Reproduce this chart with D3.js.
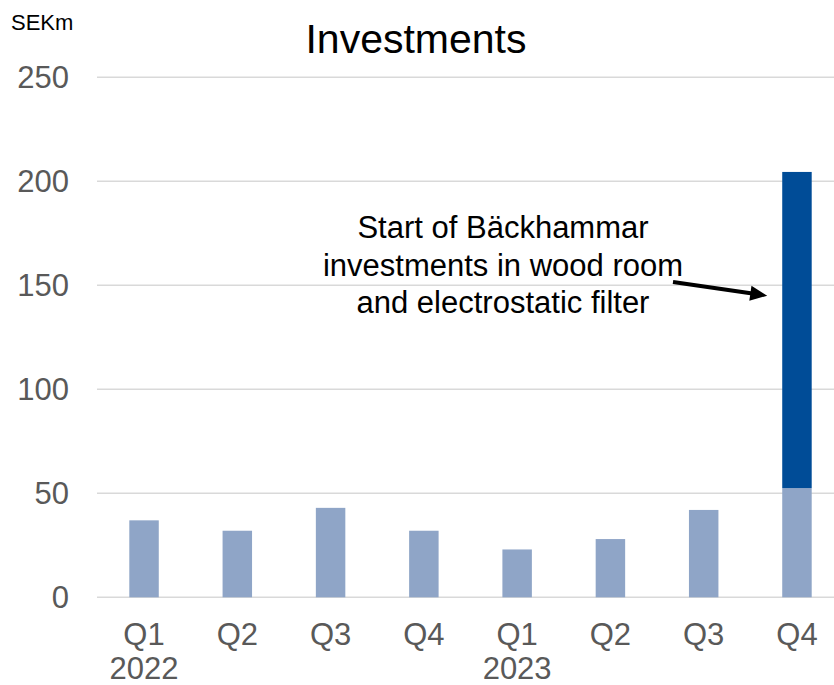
<!DOCTYPE html>
<html>
<head>
<meta charset="utf-8">
<script src="https://cdn.jsdelivr.net/npm/d3@7/dist/d3.min.js"></script>
<style>
  html, body { margin: 0; padding: 0; background: #fff; }
  svg { display: block; font-family: "Liberation Sans", Arial, sans-serif; }
</style>
</head>
<body>
<svg id="chart" width="834" height="685"></svg>
<script>
// ---- data ----
const quarters = ["Q1", "Q2", "Q3", "Q4", "Q1", "Q2", "Q3", "Q4"];
const years = ["2022", "", "", "", "2023", "", "", ""];
const ongoing = [37, 32, 43, 32, 23, 28, 42, 52.5];
const backhammar = [0, 0, 0, 0, 0, 0, 0, 152];
const yTicks = [0, 50, 100, 150, 200, 250];
const titleText = "Investments";
const unitText = "SEKm";
const noteLines = ["Start of Bäckhammar", "investments in wood room", "and electrostatic filter"];
const seriesKeys = ["ongoing", "backhammar"];
const seriesColors = ["#8FA5C7", "#004C97"];

// ---- build table ----
const table = quarters.map((q, i) => ({ idx: i, ongoing: ongoing[i], backhammar: backhammar[i] }));
const stacked = d3.stack().keys(seriesKeys)(table);

const svg = d3.select("#chart");
const W = 834;

const x = d3.scaleBand()
  .domain(d3.range(quarters.length))
  .range([97.4, 843.6])
  .paddingInner(0.684)
  .paddingOuter(0.342);

const y = d3.scaleLinear().domain([0, 250]).range([597.3, 77.3]);

// gridlines
svg.append("g").selectAll("line")
  .data(yTicks)
  .join("line")
  .attr("x1", 97).attr("x2", W)
  .attr("y1", d => y(d)).attr("y2", d => y(d))
  .attr("stroke", "#D9D9D9").attr("stroke-width", 1.5);

// y tick labels
svg.append("g").selectAll("text")
  .data(yTicks)
  .join("text")
  .attr("x", 69)
  .attr("y", d => y(d))
  .attr("dy", "0.36em")
  .attr("text-anchor", "end")
  .attr("font-size", 31)
  .attr("fill", "#595959")
  .text(d => d);

// bars
svg.append("g").selectAll("g")
  .data(stacked)
  .join("g")
  .attr("fill", (d, i) => seriesColors[i])
  .selectAll("rect")
  .data(d => d.filter(s => s[1] - s[0] > 0))
  .join("rect")
  .attr("x", d => x(d.data.idx))
  .attr("width", x.bandwidth())
  .attr("y", d => y(d[1]))
  .attr("height", d => y(d[0]) - y(d[1]));

// x labels
const xl = svg.append("g");
xl.selectAll("text.q")
  .data(quarters)
  .join("text")
  .attr("class", "q")
  .attr("x", (d, i) => x(i) + x.bandwidth() / 2)
  .attr("y", 645)
  .attr("text-anchor", "middle")
  .attr("font-size", 31)
  .attr("fill", "#595959")
  .text(d => d);
xl.selectAll("text.yr")
  .data(years)
  .join("text")
  .attr("class", "yr")
  .attr("x", (d, i) => x(i) + x.bandwidth() / 2)
  .attr("y", 679)
  .attr("text-anchor", "middle")
  .attr("font-size", 31)
  .attr("fill", "#595959")
  .text(d => d);

// title
svg.append("text")
  .attr("x", 416).attr("y", 53)
  .attr("text-anchor", "middle")
  .attr("font-size", 41)
  .attr("fill", "#000")
  .text(titleText);

// unit
svg.append("text")
  .attr("x", 11).attr("y", 30)
  .attr("font-size", 22)
  .attr("fill", "#000")
  .text(unitText);

// annotation
svg.append("g").selectAll("text")
  .data(noteLines)
  .join("text")
  .attr("x", 503)
  .attr("y", (d, i) => 238 + i * 37.5)
  .attr("text-anchor", "middle")
  .attr("font-size", 31)
  .attr("fill", "#000")
  .text(d => d);

// arrow
const tipX = x(7) - 15, tipY = y(145);
const startX = 673, startY = 282;
const ang = Math.atan2(tipY - startY, tipX - startX);
const hl = 17, hw = 7.5;
const baseX = tipX - hl * Math.cos(ang), baseY = tipY - hl * Math.sin(ang);
svg.append("line")
  .attr("x1", startX).attr("y1", startY)
  .attr("x2", baseX + 2 * Math.cos(ang)).attr("y2", baseY + 2 * Math.sin(ang))
  .attr("stroke", "#000").attr("stroke-width", 4);
svg.append("path")
  .attr("d", `M${tipX},${tipY} L${baseX - hw * Math.sin(ang)},${baseY + hw * Math.cos(ang)} L${baseX + hw * Math.sin(ang)},${baseY - hw * Math.cos(ang)} Z`)
  .attr("fill", "#000");
</script>
</body>
</html>
